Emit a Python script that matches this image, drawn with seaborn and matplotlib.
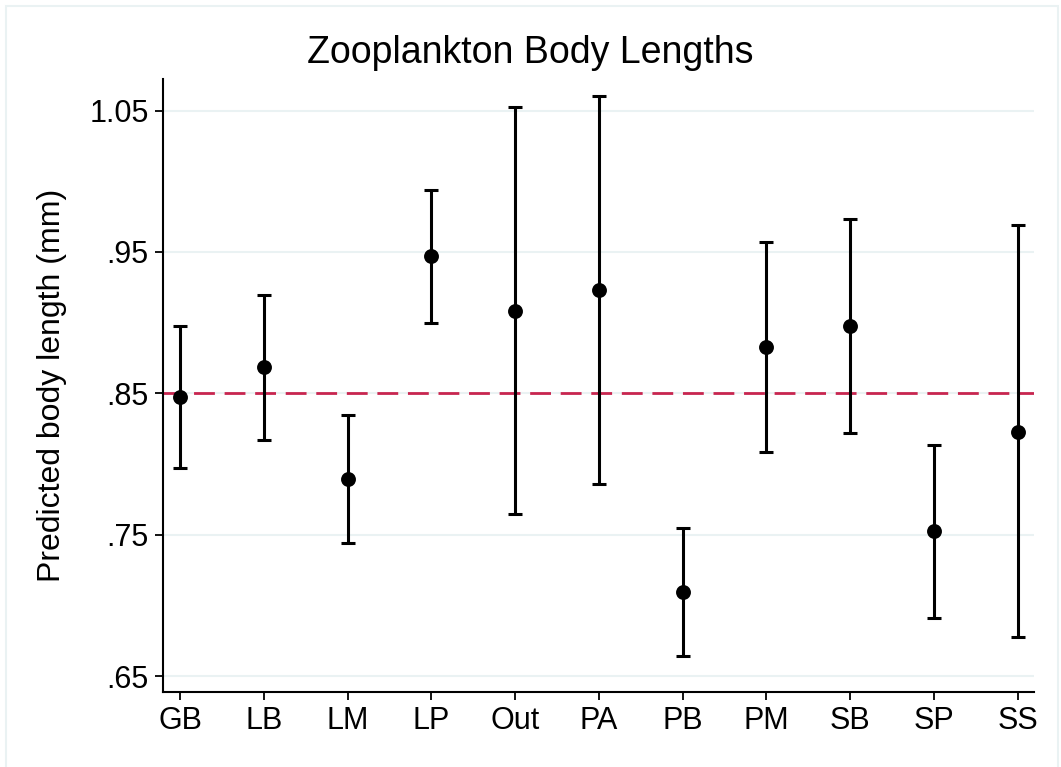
import matplotlib
matplotlib.use("Agg")
import matplotlib.pyplot as plt
import seaborn as sns
import pandas as pd
from matplotlib.patches import Rectangle

categories = ["GB", "LB", "LM", "LP", "Out", "PA", "PB", "PM", "SB", "SP", "SS"]
predicted = [0.8476, 0.8684, 0.7891, 0.9469, 0.9083, 0.9231, 0.7092, 0.8825, 0.8974, 0.7524, 0.8229]
ci_lower = [0.7973, 0.8170, 0.7440, 0.9001, 0.7645, 0.7862, 0.6639, 0.8085, 0.8217, 0.6908, 0.6776]
ci_upper = [0.8976, 0.9196, 0.8346, 0.9938, 1.0528, 1.0606, 0.7545, 0.9568, 0.9733, 0.8134, 0.9693]
ref_value = 0.85
yticks = [0.65, 0.75, 0.85, 0.95, 1.05]
ytick_labels = [".65", ".75", ".85", ".95", "1.05"]

df = pd.DataFrame({"group": categories, "pred": predicted, "lo": ci_lower, "hi": ci_upper})

sns.set_theme(style="white")
plt.rcParams["font.family"] = ["Liberation Sans", "DejaVu Sans"]
plt.rcParams["text.color"] = "black"
plt.rcParams["axes.labelcolor"] = "black"

fig = plt.figure(figsize=(10.61, 7.67), dpi=100)
ax = fig.add_axes([0.1533, 0.0978, 0.975 - 0.1533, 0.897 - 0.0978])

# outer frame
fig.patches.append(Rectangle((6 / 1061, -0.01), (1058 - 6) / 1061, (761 / 767) + 0.01,
                             transform=fig.transFigure, fill=False,
                             edgecolor="#EAF2F3", linewidth=1.5, zorder=0))

grid_color = "#EAF2F3"
for yt in yticks:
    ax.axhline(yt, color=grid_color, linewidth=1.5, zorder=0)

xpos = list(range(len(categories)))
df["x"] = xpos
ax.errorbar(df["x"], df["pred"],
            yerr=[df["pred"] - df["lo"], df["hi"] - df["pred"]],
            fmt="none", ecolor="black", elinewidth=2.2, capsize=4.8, capthick=2.2, zorder=3)
sns.scatterplot(data=df, x="x", y="pred", color="black", s=115, edgecolor="black",
                linewidth=0, ax=ax, zorder=4, legend=False)

ax.axhline(ref_value, color="#C8254F", linewidth=2.0, dashes=(7.5, 3.5), zorder=2)

ax.set_xlim(-0.21, 10.2)
ax.set_ylim(0.6387, 1.0724)
ax.set_xticks(xpos)
ax.set_xticklabels(categories)
ax.set_yticks(yticks)
ax.set_yticklabels(ytick_labels)
ax.set_xlabel("")
ax.set_ylabel("Predicted body length (mm)", fontsize=23, labelpad=16)
fig.text(0.5, 1 - 63 / 767, "Zooplankton Body Lengths", fontsize=27, color="black",
         ha="center", va="baseline")

for side in ["top", "right"]:
    ax.spines[side].set_visible(False)
for side in ["left", "bottom"]:
    ax.spines[side].set_color("black")
    ax.spines[side].set_linewidth(1.5)
ax.tick_params(axis="both", which="both", direction="out", length=6, width=1.3,
               color="black", labelsize=22, labelcolor="black",
               left=True, bottom=True, pad=4)

fig.savefig("out.png", dpi=100, facecolor="white")
